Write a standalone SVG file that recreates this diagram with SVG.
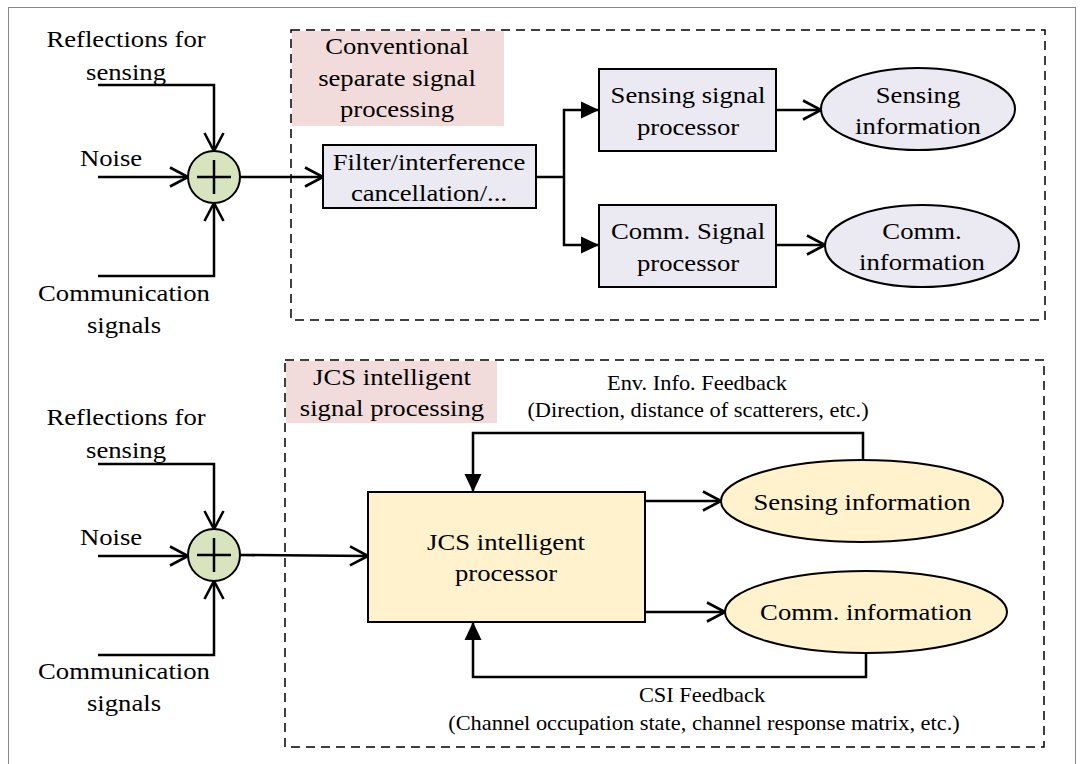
<svg xmlns="http://www.w3.org/2000/svg" width="1083" height="764" viewBox="0 0 1083 764" font-family="'Liberation Serif', 'Times New Roman', 'DejaVu Serif', serif">
<defs>
<marker id="open" viewBox="0 0 20 22" refX="19" refY="11" markerWidth="20" markerHeight="22" markerUnits="userSpaceOnUse" orient="auto">
<path d="M1,1.5 L19,11 L1,20.5" fill="none" stroke="#000" stroke-width="2.6"/>
</marker>
<marker id="fill" viewBox="0 0 18 18" refX="18" refY="9" markerWidth="18" markerHeight="18" markerUnits="userSpaceOnUse" orient="auto">
<path d="M0,0.5 L18,9 L0,17.5 Z" fill="#000"/>
</marker>
</defs>
<style>
text{font-size:23px;fill:#000;text-anchor:middle}
.small{font-size:20px}
.frame{fill:none;stroke:#000;stroke-width:1.5;stroke-dasharray:9,6}
.lbl{fill:#f2dcdb}
.box{fill:#ebe9f1;stroke:#000;stroke-width:2}
.ybox{fill:#fff2cc;stroke:#000;stroke-width:2}
.sum{fill:#d7e4bd;stroke:#000;stroke-width:2}
.plus{stroke:#000;stroke-width:2.5}
.c{fill:none;stroke:#000;stroke-width:2.5}
</style>
<rect x="0" y="0" width="1083" height="764" fill="#fff"/>
<rect x="8.5" y="7.5" width="1067" height="770" fill="none" stroke="#888" stroke-width="1"/>

<g id="top-frame">
<rect class="frame" x="291" y="30" width="754" height="290"/>
<rect class="lbl" x="292" y="31" width="212" height="95"/>
<text transform="translate(397,54) scale(1.16,1)">Conventional</text>
<text transform="translate(397,86) scale(1.16,1)">separate signal</text>
<text transform="translate(397,117) scale(1.16,1)">processing</text>
</g>

<g id="top-inputs">
<text transform="translate(126,47) scale(1.16,1)">Reflections for</text>
<text transform="translate(126,80) scale(1.16,1)">sensing</text>
<text transform="translate(111,166) scale(1.16,1)">Noise</text>
<text transform="translate(124,301) scale(1.16,1)">Communication</text>
<text transform="translate(124,333) scale(1.16,1)">signals</text>
</g>

<g id="top-sum">
<circle class="sum" cx="214" cy="177" r="26"/>
<path class="plus" d="M214,160 V194 M197,177 H231"/>
</g>

<g id="filter">
<rect class="box" x="323" y="145" width="213" height="63"/>
<text transform="translate(429,170) scale(1.16,1)">Filter/interference</text>
<text transform="translate(429,201) scale(1.16,1)">cancellation/...</text>
</g>

<g id="sensing-proc">
<rect class="box" x="599" y="69" width="177" height="82"/>
<text transform="translate(688,103) scale(1.16,1)">Sensing signal</text>
<text transform="translate(688,135) scale(1.16,1)">processor</text>
</g>

<g id="sensing-info">
<ellipse class="box" cx="918" cy="109" rx="97" ry="41"/>
<text transform="translate(918,103) scale(1.16,1)">Sensing</text>
<text transform="translate(918,134) scale(1.16,1)">information</text>
</g>

<g id="comm-proc">
<rect class="box" x="599" y="205" width="177" height="82"/>
<text transform="translate(688,239) scale(1.16,1)">Comm. Signal</text>
<text transform="translate(688,271) scale(1.16,1)">processor</text>
</g>

<g id="comm-info">
<ellipse class="box" cx="922" cy="246" rx="97" ry="41"/>
<text transform="translate(922,239) scale(1.16,1)">Comm.</text>
<text transform="translate(922,270) scale(1.16,1)">information</text>
</g>

<g id="bottom-frame">
<rect class="frame" x="285" y="360" width="759" height="387"/>
<rect class="lbl" x="286" y="361" width="211" height="62"/>
<text transform="translate(392,385) scale(1.16,1)">JCS intelligent</text>
<text transform="translate(392,416) scale(1.16,1)">signal processing</text>
</g>

<g id="bottom-inputs">
<text transform="translate(126,425) scale(1.16,1)">Reflections for</text>
<text transform="translate(126,458) scale(1.16,1)">sensing</text>
<text transform="translate(111,545) scale(1.16,1)">Noise</text>
<text transform="translate(124,679) scale(1.16,1)">Communication</text>
<text transform="translate(124,711) scale(1.16,1)">signals</text>
</g>

<g id="bottom-sum">
<circle class="sum" cx="214" cy="555" r="26"/>
<path class="plus" d="M214,538 V572 M197,555 H231"/>
</g>

<g id="jcs-proc">
<rect class="ybox" x="368" y="492" width="277" height="130"/>
<text transform="translate(506,550) scale(1.16,1)">JCS intelligent</text>
<text transform="translate(506,581) scale(1.16,1)">processor</text>
</g>

<g id="jcs-sensing-info">
<ellipse class="ybox" cx="862" cy="501" rx="141" ry="41"/>
<text transform="translate(862,510) scale(1.16,1)">Sensing information</text>
</g>

<g id="jcs-comm-info">
<ellipse class="ybox" cx="866" cy="612" rx="141" ry="41"/>
<text transform="translate(866,620) scale(1.16,1)">Comm. information</text>
</g>

<g id="feedback-labels">
<text class="small" transform="translate(697,390) scale(1.12,1)">Env. Info. Feedback</text>
<text class="small" transform="translate(698,417) scale(1.12,1)">(Direction, distance of scatterers, etc.)</text>
<text class="small" transform="translate(702,702) scale(1.12,1)">CSI Feedback</text>
<text class="small" transform="translate(704,730) scale(1.12,1)">(Channel occupation state, channel response matrix, etc.)</text>
</g>

<g id="connectors">
<path class="c" d="M98,85 H214 V151" marker-end="url(#open)"/>
<path class="c" d="M98,177 H188" marker-end="url(#open)"/>
<path class="c" d="M98,276 H214 V203" marker-end="url(#open)"/>
<path class="c" d="M240,177 H323" marker-end="url(#open)"/>
<path class="c" d="M536,177 H564"/>
<path class="c" d="M564,177 V110 H599" marker-end="url(#fill)"/>
<path class="c" d="M564,177 V245 H599" marker-end="url(#fill)"/>
<path class="c" d="M776,110 H821" marker-end="url(#open)"/>
<path class="c" d="M776,245 H825" marker-end="url(#open)"/>

<path class="c" d="M98,464 H214 V529" marker-end="url(#open)"/>
<path class="c" d="M98,556 H188" marker-end="url(#open)"/>
<path class="c" d="M98,655 H214 V581" marker-end="url(#open)"/>
<path class="c" d="M240,555 L368,556" marker-end="url(#open)"/>
<path class="c" d="M645,501 H721" marker-end="url(#open)"/>
<path class="c" d="M645,612 H725" marker-end="url(#open)"/>
<path class="c" d="M863,460 V433 H473 V492" marker-end="url(#fill)"/>
<path class="c" d="M866,653 V677 H473 V622" marker-end="url(#fill)"/>
</g>
</svg>
